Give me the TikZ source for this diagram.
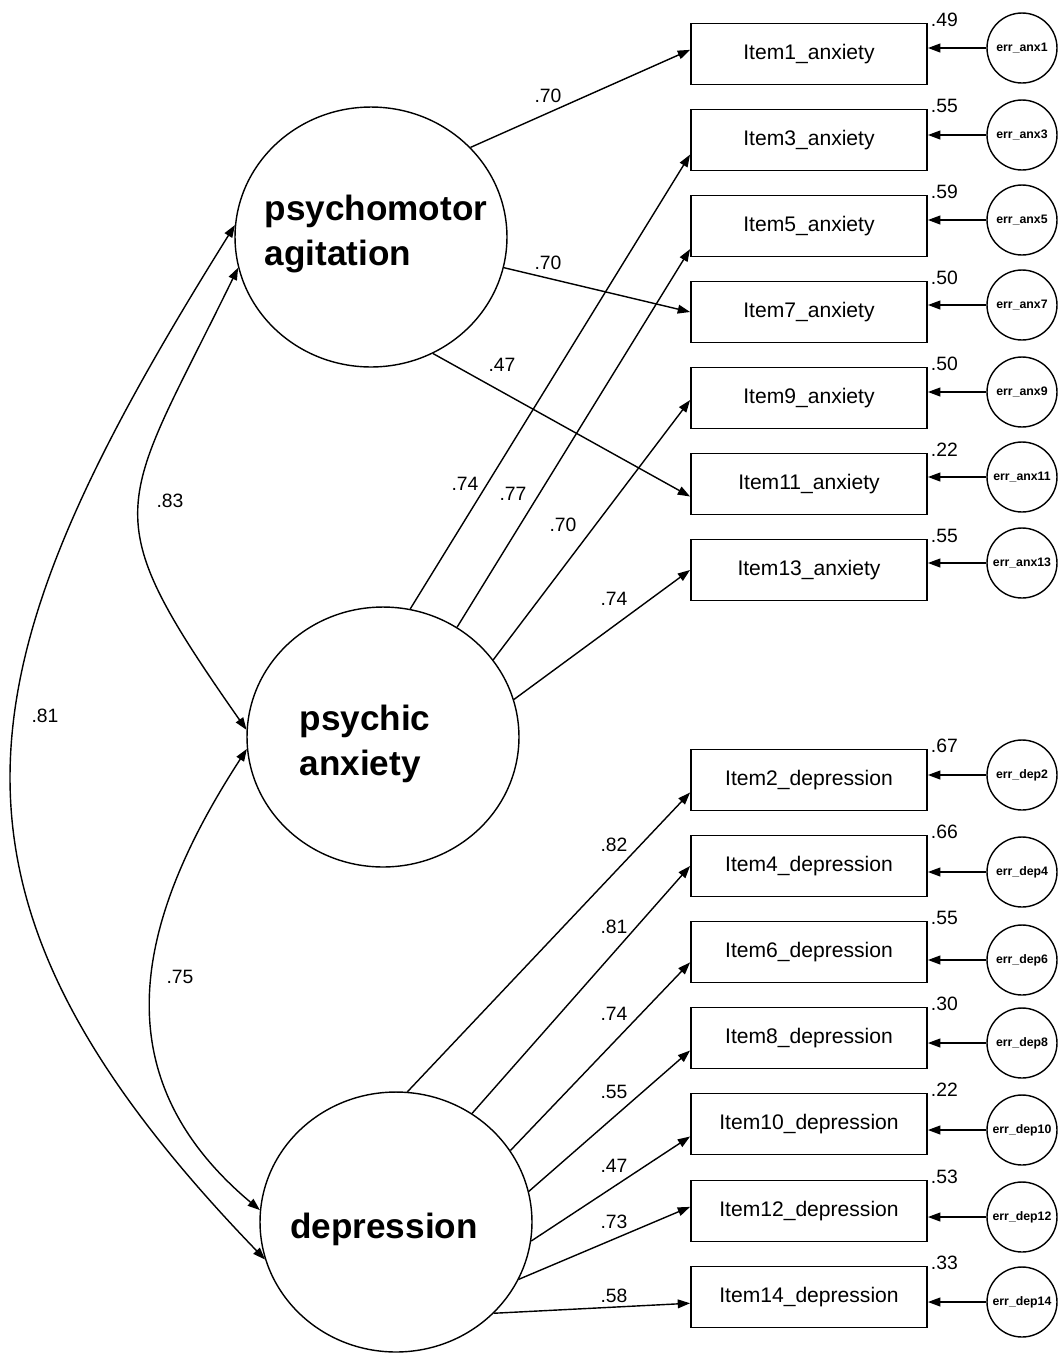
\documentclass[tikz,border=0pt]{standalone}
\usepackage{fontspec}
\setmainfont{Liberation Sans}
\usetikzlibrary{shapes.geometric,arrows.meta}

\begin{document}
\begin{tikzpicture}[x=0.02cm, y=-0.02cm, >={Triangle[length=7pt,width=5pt]},
    latent/.style={shape=ellipse, draw, line width=0.8pt, minimum width=5.44cm, minimum height=5.2cm, inner sep=0pt},
    latname/.style={align=left, font=\fontsize{20}{25.5}\selectfont\bfseries, inner sep=0pt},
    item/.style={shape=rectangle, draw, line width=1.1pt, minimum width=4.72cm, minimum height=1.22cm, inner sep=0pt, font=\fontsize{12}{14}\selectfont},
    err/.style={shape=circle, draw, line width=0.8pt, minimum size=1.4cm, inner sep=0pt, font=\fontsize{7}{8}\selectfont\bfseries},
    num/.style={font=\fontsize{11}{13}\selectfont, inner sep=0pt},
    rsq/.style={num, anchor=base west, xshift=1.5pt, yshift=-2.3pt},
    load/.style={->, line width=0.8pt},
    cov/.style={<->, line width=0.8pt}]
    \useasboundingbox (0,0) rectangle (1058,1353);

    % latent factors
    \node[latent] (PA) at (371,237) {};
        \node[latname] (PAt) at (376,234) {psychomotor\\agitation};
    \node[latent] (PS) at (383,737) {};
        \node[latname] (PSt) at (365,744) {psychic\\anxiety};
    \node[latent] (DEP) at (396,1222) {};
        \node[latname] (DEPt) at (384,1229) {depression};

    % anxiety items
    \node[item] (I1) at (809,54) {Item1\_anxiety};
        \node[rsq] (R1) at (I1.north east) {.49};
    \node[item] (I3) at (809,140) {Item3\_anxiety};
        \node[rsq] (R3) at (I3.north east) {.55};
    \node[item] (I5) at (809,226) {Item5\_anxiety};
        \node[rsq] (R5) at (I5.north east) {.59};
    \node[item] (I7) at (809,312) {Item7\_anxiety};
        \node[rsq] (R7) at (I7.north east) {.50};
    \node[item] (I9) at (809,398) {Item9\_anxiety};
        \node[rsq] (R9) at (I9.north east) {.50};
    \node[item] (I11) at (809,484) {Item11\_anxiety};
        \node[rsq] (R11) at (I11.north east) {.22};
    \node[item] (I13) at (809,570) {Item13\_anxiety};
        \node[rsq] (R13) at (I13.north east) {.55};

    % depression items
    \node[item] (I2) at (809,780) {Item2\_depression};
        \node[rsq] (R2) at (I2.north east) {.67};
    \node[item] (I4) at (809,866) {Item4\_depression};
        \node[rsq] (R4) at (I4.north east) {.66};
    \node[item] (I6) at (809,952) {Item6\_depression};
        \node[rsq] (R6) at (I6.north east) {.55};
    \node[item] (I8) at (809,1038) {Item8\_depression};
        \node[rsq] (R8) at (I8.north east) {.30};
    \node[item] (I10) at (809,1124) {Item10\_depression};
        \node[rsq] (R10) at (I10.north east) {.22};
    \node[item] (I12) at (809,1211) {Item12\_depression};
        \node[rsq] (R12) at (I12.north east) {.53};
    \node[item] (I14) at (809,1297) {Item14\_depression};
        \node[rsq] (R14) at (I14.north east) {.33};

    % error terms
    \node[err] (E1) at (1022,48) {err\_anx1};
    \node[err] (E3) at (1022,135) {err\_anx3};
    \node[err] (E5) at (1022,220) {err\_anx5};
    \node[err] (E7) at (1022,305) {err\_anx7};
    \node[err] (E9) at (1022,392) {err\_anx9};
    \node[err] (E11) at (1022,477) {err\_anx11};
    \node[err] (E13) at (1022,563) {err\_anx13};
    \node[err] (E2) at (1022,775) {err\_dep2};
    \node[err] (E4) at (1022,872) {err\_dep4};
    \node[err] (E6) at (1022,960) {err\_dep6};
    \node[err] (E8) at (1022,1043) {err\_dep8};
    \node[err] (E10) at (1022,1130) {err\_dep10};
    \node[err] (E12) at (1022,1217) {err\_dep12};
    \node[err] (E14) at (1022,1302) {err\_dep14};

    \draw[load] (E1) -- (I1.east |- E1);
    \draw[load] (E3) -- (I3.east |- E3);
    \draw[load] (E5) -- (I5.east |- E5);
    \draw[load] (E7) -- (I7.east |- E7);
    \draw[load] (E9) -- (I9.east |- E9);
    \draw[load] (E11) -- (I11.east |- E11);
    \draw[load] (E13) -- (I13.east |- E13);
    \draw[load] (E2) -- (I2.east |- E2);
    \draw[load] (E4) -- (I4.east |- E4);
    \draw[load] (E6) -- (I6.east |- E6);
    \draw[load] (E8) -- (I8.east |- E8);
    \draw[load] (E10) -- (I10.east |- E10);
    \draw[load] (E12) -- (I12.east |- E12);
    \draw[load] (E14) -- (I14.east |- E14);

    % loadings
    \draw[load] (PA.42) -- (I1.178);
        \node[num] (L1) at (548,96) {.70};
    \draw[load] (PA.-13) -- (I7.180);
        \node[num] (L7) at (548,263) {.70};
    \draw[load] (PA.-62) -- (I11.186);
        \node[num] (L11) at (502,365) {.47};
    \draw[load] (PS.78) -- (I3.187);
        \node[num] (L3) at (465,484) {.74};
    \draw[load] (PS.56) -- (I5.191);
        \node[num] (L5) at (513,494) {.77};
    \draw[load] (PS.35) -- (I9.181);
        \node[num] (L9) at (563,525) {.70};
    \draw[load] (PS.16) -- (I13.180);
        \node[num] (L13) at (614,599) {.74};
    \draw[load] (DEP.85) -- (I2.186);
        \node[num] (L2) at (614,845) {.82};
    \draw[load] (DEP.55) -- (I4.180);
        \node[num] (L4) at (614,927) {.81};
    \draw[load] (DEP.32) -- (I6.185);
        \node[num] (L6) at (614,1014) {.74};
    \draw[load] (DEP.13) -- (I8.186);
        \node[num] (L8) at (614,1092) {.55};
    \draw[load] (DEP.-8) -- (I10.186);
        \node[num] (L10) at (614,1166) {.47};
    \draw[load] (DEP.-25) -- (I12.178);
        \node[num] (L12) at (614,1222) {.73};
    \draw[load] (DEP.-43) -- (I14.183);
        \node[num] (L14) at (614,1296) {.58};

    % correlations
    \draw[cov] (PA.175) to [out=238,in=134,looseness=1.28] (DEP.196);
        \node[num] (C1) at (45,716) {.81};
    \draw[cov] (PA.193) to [out=244,in=125,looseness=1.5] (PS.177);
        \node[num] (C2) at (170,501) {.83};
    \draw[cov] (PS.185) to [out=237,in=140,looseness=1.15] (DEP.175);
        \node[num] (C3) at (180,977) {.75};
\end{tikzpicture}
\end{document}
